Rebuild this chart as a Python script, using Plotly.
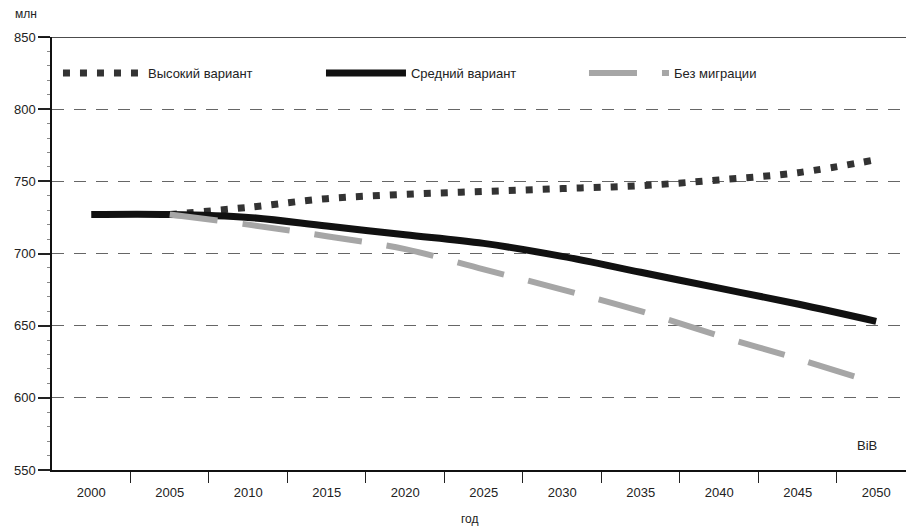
import plotly.graph_objects as go

years = [2000, 2005, 2010, 2015, 2020, 2025, 2030, 2035, 2040, 2045, 2050]
years_var = years[1:]

high = [727, 732, 738, 741, 743, 745, 747, 751, 756, 765]
medium = [727, 727, 725, 719, 713, 707, 698, 687, 676, 665, 653]
no_migr = [727, 720, 712, 703, 689, 675, 660, 643, 627, 610]

font = "Liberation Sans, Arial, sans-serif"

fig = go.Figure()

fig.add_trace(go.Scatter(
    x=years_var, y=high, name="Высокий вариант", mode="lines",
    line=dict(color="#333333", width=7, dash="7px,10px", shape="spline"),
))
fig.add_trace(go.Scatter(
    x=years, y=medium, name="Средний вариант", mode="lines",
    line=dict(color="#111111", width=7, shape="spline"),
))
fig.add_trace(go.Scatter(
    x=years_var, y=no_migr, name="Без миграции", mode="lines",
    line=dict(color="#a6a6a6", width=6, dash="48px,25px", shape="spline"),
))

fig.update_xaxes(
    range=[1997.5, 2051.9],
    tickvals=years,
    ticktext=[str(y) for y in years],
    ticks="outside", ticklen=9, tickcolor="rgba(0,0,0,0)",
    minor=dict(tickvals=[y + 2.5 for y in years[:-1]], ticks="outside",
               ticklen=11, tickwidth=1.2, tickcolor="#222"),
    showgrid=False, zeroline=False,
    showline=True, linecolor="#111", linewidth=2,
    tickfont=dict(size=13, color="#222"),
)
fig.update_yaxes(
    range=[550, 850],
    tickvals=[550, 600, 650, 700, 750, 800, 850],
    ticks="outside", ticklen=12, tickwidth=1.5, tickcolor="#222",
    minor=dict(dtick=10, ticks="outside", ticklen=3, tickwidth=1, tickcolor="#888"),
    showgrid=True, gridcolor="#666", gridwidth=1.3, griddash="12px,10px",
    zeroline=False,
    showline=True, linecolor="#111", linewidth=1.5,
    tickfont=dict(size=13, color="#222"),
)

# solid top border at 850
fig.add_shape(type="line", xref="paper", yref="y", x0=-0.014, x1=1, y0=850, y1=850,
              line=dict(color="#111", width=1.5))

fig.add_annotation(text="млн", xref="paper", yref="paper", x=-0.03, y=1.053,
                   xanchor="center", yanchor="middle",
                   showarrow=False, font=dict(size=12, color="#222"))
fig.add_annotation(text="BiB", xref="x", yref="y", x=2049.4, y=567,
                   showarrow=False, font=dict(size=13, color="#222"))
fig.add_annotation(text="год", xref="paper", yref="paper", x=0.49, y=-0.113,
                   xanchor="center", yanchor="middle",
                   showarrow=False, font=dict(size=12, color="#222"))

fig.update_layout(
    width=906, height=526,
    margin=dict(l=52, r=0, t=37, b=56),
    plot_bgcolor="white", paper_bgcolor="white",
    font=dict(family=font, size=13, color="#222"),
    legend=dict(orientation="h", x=0.007, xanchor="left", y=0.917, yanchor="middle",
                itemwidth=80, entrywidth=168, entrywidthmode="pixels",
                bgcolor="rgba(0,0,0,0)", font=dict(size=13)),
)

fig.write_html("out.html", config={"displayModeBar": False},
               post_script="document.body.style.margin='0';")
